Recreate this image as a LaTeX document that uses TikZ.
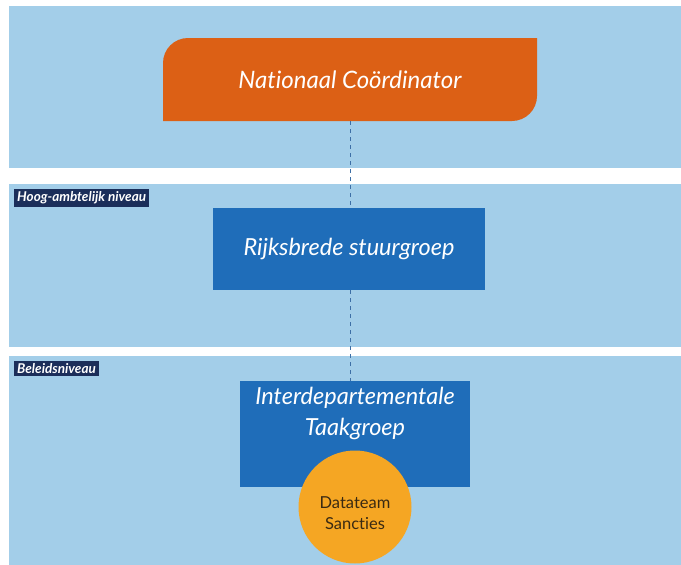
\documentclass[tikz,border=0pt]{standalone}
\usepackage{fontspec}
\setmainfont[Ligatures={NoCommon}]{Lato}
\definecolor{band}{HTML}{A3CEE9}
\definecolor{ncorange}{HTML}{DC6015}
\definecolor{boxblue}{HTML}{1F6DB9}
\definecolor{dtorange}{HTML}{F5A623}
\definecolor{navy}{HTML}{1B2E5A}
\definecolor{dashc}{HTML}{3D6FA6}
\definecolor{dttext}{HTML}{3A2A12}
\tikzset{
  bandbox/.style={fill=band, draw=none},
  levellabel/.style={fill=navy, text=white, font=\fontsize{13.5}{15}\selectfont\bfseries\itshape, inner xsep=3pt, inner ysep=2.5pt, anchor=north west},
  bluebox/.style={fill=boxblue, draw=none, text=white, align=center},
  linkline/.style={draw=dashc, dashed, dash pattern=on 4pt off 4pt, line width=0.8pt}
}
\begin{document}
\begin{tikzpicture}[x=1pt,y=-1pt]
\useasboundingbox (0,0) rectangle (681,565);
\fill[white] (0,0) rectangle (681,565);
% bands
\fill[bandbox] (9,6) rectangle (681,168);
\fill[bandbox] (9,184) rectangle (681,347);
\fill[bandbox] (9,356) rectangle (681,565);
% level labels
\node[levellabel] (l1) at (14,189) {Hoog-ambtelijk niveau};
\node[levellabel] (l2) at (14,361) {Beleidsniveau};
% Nationaal Coordinator shape
\fill[ncorange] (163,121) -- (163,63) arc[start angle=180,end angle=270,radius=25] -- (537,38) -- (537,96) arc[start angle=0,end angle=90,radius=25] -- cycle;
\node[text=white, font=\fontsize{24}{28}\selectfont\itshape, minimum width=374pt, minimum height=83pt, inner sep=0pt] (nc) at (350,79.5) {Nationaal Coördinator};
% Rijksbrede stuurgroep
\node[bluebox, minimum width=272pt, minimum height=82pt, font=\fontsize{23.5}{27}\selectfont\itshape] (rs) at (349,249) {Rijksbrede stuurgroep};
% Interdepartementale Taakgroep
\node[bluebox, minimum width=230pt, minimum height=106pt, anchor=north, inner sep=0pt] (id) at (355,381) {};
\node[text=white, align=center, font=\fontsize{23.5}{31}\selectfont\itshape, inner sep=0pt] (idtext) at (355,413) {Interdepartementale\\Taakgroep};
% Datateam circle
\node[circle, fill=dtorange, minimum size=113pt, inner sep=0pt] (dt) at (355,507) {};
\node[align=center, text=dttext, font=\fontsize{16.5}{21}\selectfont, inner sep=0pt] (dttxt) at (355,513) {Datateam\\Sancties};
% dashed connectors
\draw[linkline] (nc.south -| 350,0) -- (rs.north -| 350,0);
\draw[linkline] (rs.south -| 350,0) -- (id.north -| 350,0);
\end{tikzpicture}
\end{document}
